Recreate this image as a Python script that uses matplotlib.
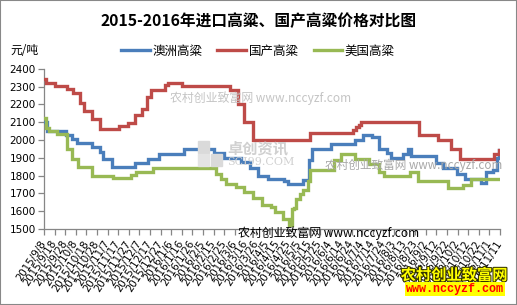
import matplotlib
matplotlib.use('Agg')
import matplotlib.pyplot as plt
import matplotlib.patheffects as pe
from matplotlib.patches import Rectangle
import pandas as pd

plt.rcParams['font.family'] = ['Noto Sans CJK SC', 'DejaVu Sans']

title = '2015-2016年进口高粱、国产高粱价格对比图'
unit = '元/吨'
series_names = ['澳洲高粱', '国产高粱', '美国高粱']
start_date = '2015-09-08'
end_date = '2016-11-11'

# days since 2015-09-08 where the price changes, and the price from that day on
aus_days = [0, 3, 21, 26, 31, 45, 53, 56, 64, 86, 98, 108, 132, 160, 170, 186, 194, 202, 211,
            226, 230, 244, 250, 253, 271, 293, 301, 309, 316, 323, 327, 339, 343, 346, 370,
            376, 389, 397, 412, 417, 423, 427, 429, 430]
aus_vals = [2100, 2050, 2030, 2005, 1983, 1961, 1930, 1895, 1848, 1873, 1895, 1920, 1948, 1929,
            1899, 1877, 1843, 1798, 1780, 1767, 1754, 1773, 1885, 1947, 1979, 1997, 2029, 2016,
            1951, 1928, 1898, 1922, 1947, 1909, 1872, 1842, 1810, 1778, 1760, 1820, 1829, 1900,
            1941, 1941]

dom_days = [0, 2, 10, 22, 27, 34, 38, 45, 53, 71, 79, 86, 92, 97, 101, 114, 117, 130, 175,
            183, 189, 197, 251, 291, 294, 297, 299, 354, 372, 384, 392, 424, 429, 430]
dom_vals = [2340, 2320, 2302, 2285, 2265, 2205, 2160, 2120, 2060, 2080, 2095, 2138, 2176, 2241,
            2280, 2307, 2320, 2302, 2278, 2204, 2100, 2000, 2040, 2055, 2070, 2085, 2100, 2025,
            2000, 1950, 1895, 1920, 1945, 1945]

us_days = [0, 2, 5, 12, 22, 26, 32, 45, 65, 82, 87, 103, 162, 167, 172, 181, 189, 197, 206,
           214, 218, 225, 231, 234, 236, 238, 241, 244, 249, 251, 273, 280, 293, 306, 316, 321,
           345, 353, 381, 395, 403, 430]
us_vals = [2123, 2067, 2049, 2036, 1951, 1895, 1849, 1796, 1789, 1802, 1821, 1845, 1811, 1780,
           1755, 1737, 1705, 1675, 1634, 1625, 1598, 1557, 1523, 1613, 1619, 1670, 1698, 1717,
           1770, 1833, 1885, 1919, 1894, 1866, 1820, 1797, 1820, 1769, 1730, 1745, 1782, 1782]

y_ticks = [1500, 1600, 1700, 1800, 1900, 2000, 2100, 2200, 2300, 2400]
colors = ['#4A7EBB', '#BE4B48', '#98B954']

start = pd.Timestamp(start_date)
def to_dates(days):
    return [start + pd.Timedelta(days=d) for d in days]

fig = plt.figure(figsize=(5.17, 3.05), dpi=100)
ax = fig.add_axes([44 / 517, 1 - 229 / 305, (500 - 44) / 517, (229 - 68.7) / 305])

for days, vals, name, c in [(aus_days, aus_vals, series_names[0], colors[0]),
                            (dom_days, dom_vals, series_names[1], colors[1]),
                            (us_days, us_vals, series_names[2], colors[2])]:
    ax.plot(to_dates(days), vals, color=c, lw=2.4, drawstyle='steps-post', label=name,
            solid_joinstyle='miter', zorder=3)

ax.set_ylim(1500, 2400)
ax.set_yticks(y_ticks)
ax.set_yticklabels([str(v) for v in y_ticks], fontsize=7.5, family='DejaVu Sans')
tick_dates = pd.date_range(start_date, end_date, freq='10D')
ax.set_xlim(pd.Timestamp(start_date), pd.Timestamp(end_date))
ax.set_xticks(tick_dates)
ax.set_xticklabels([f'{d.year}/{d.month}/{d.day}' for d in tick_dates], rotation=57,
                   ha='right', va='center', rotation_mode='anchor', fontsize=7.4,
                   family='DejaVu Sans')
for s in ['top', 'right']:
    ax.spines[s].set_visible(False)
for s in ['left', 'bottom']:
    ax.spines[s].set_color('#868686')
    ax.spines[s].set_linewidth(0.9)
ax.tick_params(axis='both', direction='out', length=4, color='#868686', width=0.9)
ax.tick_params(axis='x', pad=5)
ax.tick_params(axis='y', pad=2)

fig.text(0.5, 1 - 21 / 305, title, ha='center', va='center', fontsize=11.3, fontweight='bold')
fig.text(10 / 517, 1 - 51 / 305, unit, ha='left', va='center', fontsize=8.5)
fig.legend(loc='center', bbox_to_anchor=(258 / 517, 1 - 51 / 305), ncol=3, frameon=False,
           fontsize=9, handlelength=2.3, handletextpad=0.2, columnspacing=1.2,
           borderaxespad=0)

# watermarks
fig.text(170 / 517, 1 - 98 / 305, '农村创业致富网 www.nccyzf.com', fontsize=8.6, color='#c4c4c4',
         va='center', ha='left', zorder=1)
fig.text(325 / 517, 1 - 165 / 305, '农村创业致富网 www.nccyzf.com', fontsize=8.4, color='#a8a8a8',
         va='center', ha='left', zorder=5)
fig.text(238 / 517, 1 - 233 / 305, '农村创业致富网 www.nccyzf.com', fontsize=8.6, color='black',
         va='center', ha='left', zorder=5)
fig.patches.append(Rectangle((198 / 517, 1 - 153 / 305), 11 / 517, 12 / 305, transform=fig.transFigure,
                             color='#dadada', zorder=1))
fig.patches.append(Rectangle((211 / 517, 1 - 166 / 305), 11 / 517, 12 / 305, transform=fig.transFigure,
                             color='#dadada', zorder=1))
fig.patches.append(Rectangle((198 / 517, 1 - 166 / 305), 11 / 517, 12 / 305, transform=fig.transFigure,
                             color='#e4e4e4', zorder=1))
fig.text(227 / 517, 1 - 148 / 305, '卓创资讯', fontsize=11, color='#d0d0d0', va='center', ha='left',
         fontweight='bold', zorder=1)
fig.text(227 / 517, 1 - 162 / 305, 'SCI99.COM', fontsize=8, color='#d0d0d0', va='center', ha='left',
         family='DejaVu Serif', zorder=1)
fig.text(454 / 517, 1 - 275 / 305, '农村创业致富网', fontsize=11, color='#ffff00', va='center',
         ha='center', fontweight='bold', zorder=6,
         path_effects=[pe.withStroke(linewidth=1.5, foreground='#333300')])
fig.text(455 / 517, 1 - 289 / 305, 'www.nccyzf.com', fontsize=8.5, color='#ff0000', va='center',
         ha='center', fontweight='bold', family='Liberation Mono', zorder=6,
         bbox=dict(facecolor='#ffff00', edgecolor='none', pad=0.5))

fig.patches.append(Rectangle((0, 0), 1, 1, transform=fig.transFigure, fill=False,
                             edgecolor='#888888', lw=1.5, zorder=10))

fig.savefig('out.png', dpi=100)
